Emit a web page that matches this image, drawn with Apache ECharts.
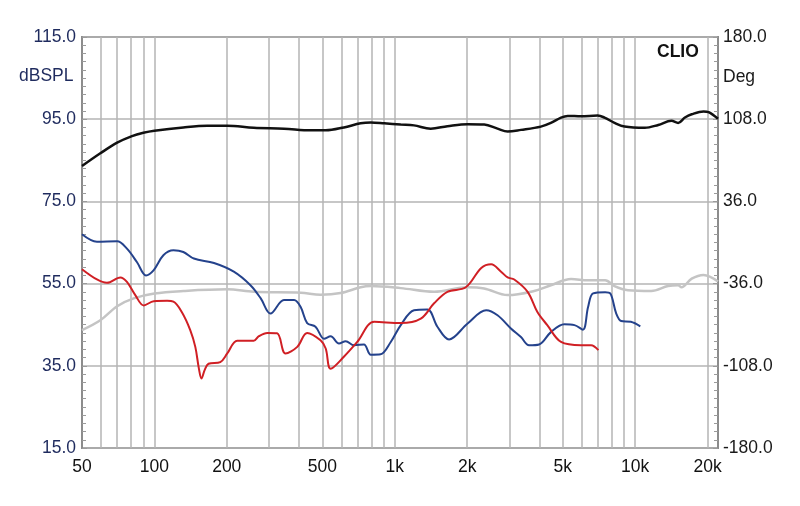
<!DOCTYPE html>
<html>
<head>
<meta charset="utf-8">
<script src="https://cdn.jsdelivr.net/npm/echarts@6/dist/echarts.min.js"></script>
<style>html,body{margin:0;padding:0;background:#fff}#c{width:800px;height:506px}</style>
</head>
<body>
<div id="c"></div>
<script>
// Frequency grid / labels (Hz)
var gridFreqs = [60,70,80,90,100,200,300,400,500,600,700,800,900,1000,2000,3000,4000,5000,6000,7000,8000,9000,10000,20000];
var labelFreqs = [50,100,200,500,1000,2000,5000,10000,20000];
var leftTicks = [15,35,55,75,95,115];
var rightTicks = [-180,-108,-36,36,108,180];

// Black curve
var blackFreq = [50,59.6,70,80.7,90,100,132,166,201,259,346,447,516,614,721,795,903,1059,1202,1411,1655,2009,2354,2675,2947,3348,4051,4460,4914,5240,5950,6980,7450,8200,9030,10960,12470,14150,15090,16100,17180,19240,20200,22100];
var blackDb   = [83.6,86.7,89.3,90.9,91.7,92.2,93.0,93.4,93.4,92.9,92.7,92.3,92.3,93.0,94.0,94.2,94.0,93.7,93.5,92.7,93.3,93.8,93.7,92.7,92.0,92.4,93.2,94.1,95.4,95.8,95.7,95.9,95.4,94.1,93.2,92.9,93.6,94.6,94.1,95.4,96.2,96.9,96.7,95.1];

// Gray curve
var grayFreq = [50,59.6,70,82,100,132,201,259,406,491,595,721,795,1059,1457,2009,2354,2947,3797,4460,5413,6368,7499,8200,9330,11660,13700,15090,15580,17180,19240,22100];
var grayDb   = [43.7,46.1,49.5,51.4,52.6,53.2,53.6,53.0,52.8,52.3,52.7,54.1,54.4,53.9,53.0,54.1,53.8,52.2,53.2,54.6,56.1,55.8,55.8,54.4,53.4,53.2,54.4,54.6,54.1,56.2,57.1,55.5];

// Blue curve
var blueFreq = [50,57.7,70,76.9,84.7,92.3,99.4,109,120,132,146,177,214,251,277,304,346,381,406,432,468,508,541,586,625,677,744,795,873,962,1059,1202,1368,1504,1681,2009,2400,2675,3041,3348,3617,3986,4460,5072,5589,6060,6368,6682,7499,7880,8340,8740,9590,10500];
var blueDb   = [67.0,65.2,65.3,63.5,60.2,57.0,58.3,61.9,63.1,62.7,61.1,60.0,57.9,54.6,51.4,47.7,51.0,51.0,49.3,45.4,44.5,41.6,42.2,40.4,41.0,40.0,40.2,37.7,37.8,40.8,44.9,48.5,48.7,44.5,41.4,45.3,48.5,47.3,44.1,42.0,40.0,40.2,43.2,45.1,44.9,43.8,49.3,52.6,52.9,52.6,47.7,45.9,45.7,44.6];

// Red curve
var redFreq = [50,57.7,63.5,72.2,76.9,83.3,90.3,99.4,113,120,130,141,148,153,157,162,168,188,201,221,259,272,295,324,351,393,432,491,516,541,614,698,821,1059,1283,1457,1655,1974,2289,2517,2767,2947,3140,3569,3919,4308,4914,5950,6550,7030];
var redDb   = [58.5,56.0,55.2,56.5,55.4,52.2,49.7,50.7,50.8,50.6,48.1,43.7,39.6,34.5,31.9,34.0,35.5,35.9,38.0,41.1,41.1,42.2,43.0,42.9,38.0,39.6,43.0,41.2,39.2,34.3,37.2,40.8,45.7,45.4,46.5,50.2,53.0,54.1,58.8,59.7,57.9,56.5,56.0,53.0,48.1,44.9,40.8,40.0,40.0,38.8];

function pairs(fs, vs){ return fs.map(function(f,i){ return [Math.log10(f), vs[i]]; }); }
function fmtF(v){ var f = Math.round(Math.pow(10, v)); return f >= 1000 ? (f/1000) + 'k' : String(f); }

var chart = echarts.init(document.getElementById('c'), null, {renderer:'canvas'});
var font = 'Liberation Sans, Arial, sans-serif';
var fs = 17.5;
function line(name, f, v, color, w){
  return {name:name, type:'line', data:pairs(f,v), showSymbol:false, symbol:'none', smooth:0.35,
    lineStyle:{color:color, width:w}, itemStyle:{color:color}, z:3, animation:false};
}
chart.setOption({
  animation:false,
  backgroundColor:'#ffffff',
  grid:{left:82, right:82, top:37, bottom:58, show:true, borderColor:'#8c8c8c', borderWidth:2, backgroundColor:'transparent'},
  xAxis:{type:'value', min:Math.log10(50), max:Math.log10(22100),
    axisLine:{show:false},
    axisTick:{show:false, customValues:gridFreqs.map(Math.log10)},
    splitLine:{show:true, lineStyle:{color:'#b4b4b4', width:1.5}},
    axisLabel:{customValues:labelFreqs.map(Math.log10), formatter:fmtF, color:'#111', fontSize:fs, fontFamily:font, margin:10}
  },
  yAxis:[
    {type:'value', min:leftTicks[0], max:leftTicks[leftTicks.length-1], interval:20,
      axisLine:{show:true, lineStyle:{color:'#8c8c8c', width:2}},
      axisTick:{show:true, inside:true, length:5, lineStyle:{color:'#9a9a9a'}},
      minorTick:{show:true, splitNumber:10, length:4, lineStyle:{color:'#9a9a9a'}},
      splitLine:{show:true, lineStyle:{color:'#b4b4b4', width:1.5}},
      axisLabel:{formatter:function(v){return v.toFixed(1);}, color:'#1f2b5e', fontSize:fs, fontFamily:font, margin:6}
    },
    {type:'value', min:rightTicks[0], max:rightTicks[rightTicks.length-1], interval:72, position:'right',
      axisLine:{show:true, lineStyle:{color:'#8c8c8c', width:2}},
      axisTick:{show:true, inside:true, length:5, lineStyle:{color:'#9a9a9a'}},
      minorTick:{show:true, splitNumber:10, length:4, lineStyle:{color:'#9a9a9a'}},
      splitLine:{show:false},
      axisLabel:{formatter:function(v){return v.toFixed(1);}, color:'#1a1a1a', fontSize:fs, fontFamily:font, margin:5}
    }
  ],
  graphic:[
    {type:'text', left:19, top:67, style:{text:'dBSPL', font:fs+'px '+font, fill:'#1f2b5e'}},
    {type:'text', left:723, top:68, style:{text:'Deg', font:fs+'px '+font, fill:'#1a1a1a'}},
    {type:'text', left:657, top:43, style:{text:'CLIO', font:'bold 17.5px '+font, fill:'#111'}}
  ],
  series:[
    line('gray', grayFreq, grayDb, '#c4c4c4', 2.5),
    line('black', blackFreq, blackDb, '#111111', 2.5),
    line('blue', blueFreq, blueDb, '#24428c', 2),
    line('red', redFreq, redDb, '#d01f24', 2)
  ]
});
</script>
</body>
</html>
